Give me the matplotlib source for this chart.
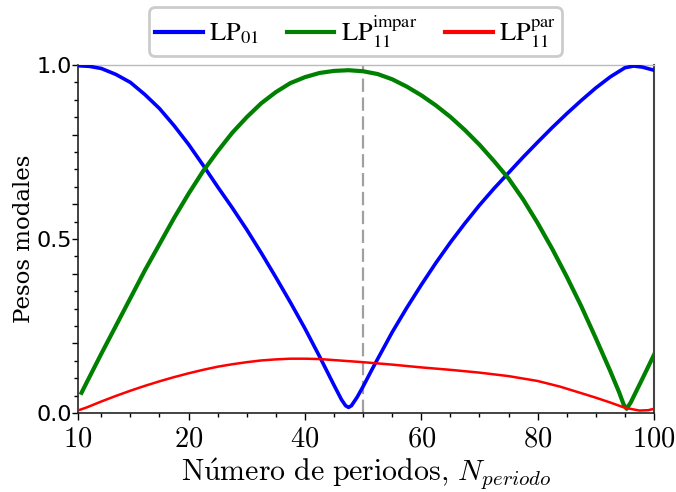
import matplotlib
matplotlib.use("Agg")
import matplotlib.pyplot as plt
from matplotlib.ticker import MultipleLocator
from matplotlib.font_manager import FontProperties

# pesos modales
n_lp01 = [1, 3, 5, 7.5, 10, 12.5, 15, 17.5, 20, 22.5, 25, 27.5, 30, 32.5, 35, 37.5,
          40, 42.5, 45, 46.3, 47, 47.5, 48, 49, 50, 51.5, 52.5, 55, 57.5, 60, 62.5,
          65, 67.5, 70, 72.5, 75, 77.5, 80, 82.5, 85, 87.5, 90, 92.5, 95, 96.5, 98, 100]
lp01 = [0.998, 0.996, 0.990, 0.973, 0.950, 0.915, 0.875, 0.826, 0.772, 0.712, 0.650,
        0.590, 0.527, 0.460, 0.390, 0.318, 0.243, 0.163, 0.080, 0.038, 0.021, 0.016,
        0.021, 0.046, 0.076, 0.124, 0.155, 0.232, 0.302, 0.368, 0.431, 0.490, 0.545,
        0.597, 0.645, 0.690, 0.735, 0.778, 0.820, 0.860, 0.898, 0.934, 0.966, 0.992,
        0.997, 0.994, 0.985]

n_impar = [1.6, 2.5, 5, 7.5, 10, 12.5, 15, 17.5, 20, 22.5, 25, 27.5, 30, 32.5, 35,
           37.5, 40, 42.5, 45, 47.5, 50, 52.5, 55, 57.5, 60, 62.5, 65, 67.5, 70, 72.5,
           75, 77.5, 80, 82.5, 85, 87.5, 90, 92.5, 94, 94.8, 95.3, 96, 98, 100]
impar = [0.058, 0.088, 0.170, 0.250, 0.330, 0.410, 0.485, 0.560, 0.630, 0.695, 0.752,
         0.805, 0.850, 0.890, 0.922, 0.948, 0.965, 0.977, 0.983, 0.985, 0.982, 0.974,
         0.959, 0.938, 0.913, 0.884, 0.851, 0.813, 0.771, 0.724, 0.674, 0.614, 0.546,
         0.472, 0.392, 0.307, 0.215, 0.120, 0.060, 0.024, 0.012, 0.030, 0.098, 0.167]

n_par = [1.3, 2.5, 5, 7.5, 10, 12.5, 15, 17.5, 20, 22.5, 25, 27.5, 30, 32.5, 35, 37.5,
         40, 42.5, 45, 47.5, 50, 55, 60, 65, 70, 75, 80, 83.8, 87.5, 90, 92.5, 95,
         97.5, 99, 100]
par = [0.009, 0.016, 0.033, 0.049, 0.064, 0.078, 0.091, 0.103, 0.114, 0.124, 0.133,
       0.140, 0.146, 0.151, 0.154, 0.156, 0.156, 0.155, 0.152, 0.149, 0.146, 0.139,
       0.131, 0.124, 0.116, 0.106, 0.092, 0.076, 0.057, 0.044, 0.030, 0.015, 0.007,
       0.008, 0.012]

xticks = [1, 20, 40, 60, 80, 100]
xticklabels = ["10", "20", "40", "60", "80", "100"]
yticks = [0, 0.2, 0.4, 0.5, 0.6, 0.8, 1.0]
yticklabels = ["0.0", "", "", "0.5", "", "", "1.0"]

plt.rcParams['mathtext.fontset'] = 'cm'

fig = plt.figure(figsize=(6.76, 4.92), dpi=100)
ax = fig.add_axes([0.1154, 0.1606, 0.852, 0.7073])

ax.plot(n_lp01, lp01, color='#0000ff', lw=2.6, label=r'$\mathrm{LP}_{01}$', zorder=3)
ax.plot(n_impar, impar, color='#008000', lw=3.0, label=r'$\mathrm{LP}_{11}^{\mathrm{impar}}$', zorder=3)
ax.plot(n_par, par, color='#ff0000', lw=1.8, label=r'$\mathrm{LP}_{11}^{\mathrm{par}}$', zorder=3)
ax.axvline(50, color='#a0a0a0', ls='--', lw=1.6, dashes=(6, 2.5), zorder=2)

ax.set_xlim(1, 100)
ax.set_ylim(0, 1)

ax.set_xticks(xticks)
ax.set_xticklabels(['$' + t + '$' for t in xticklabels], fontsize=20.5)
ax.xaxis.set_minor_locator(MultipleLocator(5))
ax.set_yticks(yticks)
ax.set_yticklabels(yticklabels, fontfamily='DejaVu Sans', fontsize=16)
ax.yaxis.set_minor_locator(MultipleLocator(0.05))
ax.tick_params(which='major', length=5, width=1, direction='out')
ax.tick_params(axis='y', which='major', length=4.2, pad=0)
ax.tick_params(which='minor', length=3, width=1, direction='out')
for t, v in zip(ax.yaxis.get_major_ticks(), yticks):
    if v not in (0, 0.5, 1.0):
        t.tick1line.set_color('#999999')

for s in ['left', 'bottom']:
    ax.spines[s].set_color('#222222')
    ax.spines[s].set_linewidth(1.2)
ax.spines['right'].set_color('#444444')
ax.spines['right'].set_linewidth(1.5)
ax.spines['top'].set_color('#bbbbbb')
ax.spines['top'].set_linewidth(1.0)

ax.set_ylabel('Pesos modales', fontfamily='DejaVu Serif', fontsize=16.5, labelpad=1)
ax.set_xlabel(r'$\mathrm{N\acute{u}mero\ de\ periodos,}\, N_{periodo}$', fontsize=21.5, labelpad=3)

leg = ax.legend(loc='lower center', bbox_to_anchor=(0.482, 1.0), ncol=3,
                prop=FontProperties(size=19, math_fontfamily='stix'),
                frameon=True, fancybox=True, framealpha=1, edgecolor='#cccccc',
                handlelength=1.8, handletextpad=0.25, columnspacing=1.05,
                borderpad=0.22, borderaxespad=0.35)
leg.get_frame().set_linewidth(2)
for l in leg.get_lines():
    l.set_linewidth(3)

fig.savefig('out.png', dpi=100)
